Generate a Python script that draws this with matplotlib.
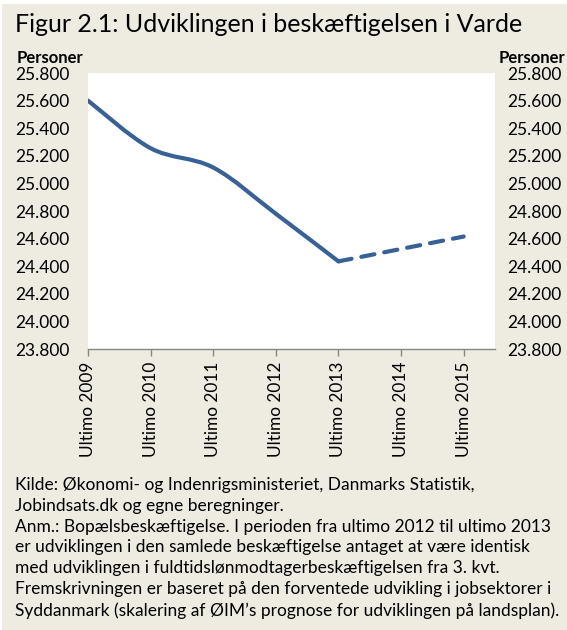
import numpy as np
import matplotlib
matplotlib.use("Agg")
import matplotlib.pyplot as plt
from matplotlib.path import Path
from matplotlib.patches import PathPatch, Rectangle

# Data (persons employed, Varde)
YEARS = ["Ultimo 2009", "Ultimo 2010", "Ultimo 2011", "Ultimo 2012",
         "Ultimo 2013", "Ultimo 2014", "Ultimo 2015"]
ACTUAL = [25600, 25255, 25115, 24780, 24435]          # 2009-2013
FORECAST = [24435, 24525, 24615]                      # 2013-2015
Y_TICKS = list(range(23800, 25801, 200))

TITLE = "Figur 2.1: Udviklingen i beskæftigelsen i Varde"
NOTE = ("Kilde: Økonomi- og Indenrigsministeriet, Danmarks Statistik,\n"
        "Jobindsats.dk og egne beregninger.\n"
        "Anm.: Bopælsbeskæftigelse. I perioden fra ultimo 2012 til ultimo 2013\n"
        "er udviklingen i den samlede beskæftigelse antaget at være identisk\n"
        "med udviklingen i fuldtidslønmodtagerbeskæftigelsen fra 3. kvt.\n"
        "Fremskrivningen er baseret på den forventede udvikling i jobsektorer i\n"
        "Syddanmark (skalering af ØIM’s prognose for udviklingen på landsplan).")

BG = "#EEECE1"
LINE = "#386196"
FONT = "Lato"


def smooth_path(x, y):
    # Excel-style smoothed line: Catmull-Rom segments as cubic Beziers
    x = np.asarray(x, float)
    y = np.asarray(y, float)
    px = np.concatenate([[x[0]], x, [x[-1]]])
    py = np.concatenate([[y[0]], y, [y[-1]]])
    verts = [(x[0], y[0])]
    codes = [Path.MOVETO]
    for i in range(1, len(px) - 2):
        c1 = (px[i] + (px[i + 1] - px[i - 1]) / 6, py[i] + (py[i + 1] - py[i - 1]) / 6)
        c2 = (px[i + 1] - (px[i + 2] - px[i]) / 6, py[i + 1] - (py[i + 2] - py[i]) / 6)
        verts += [c1, c2, (px[i + 1], py[i + 1])]
        codes += [Path.CURVE4] * 3
    return Path(verts, codes)


def fmt(v):
    return f"{v:,}".replace(",", ".")


fig = plt.figure(figsize=(5.67, 6.3), dpi=100, facecolor="white")
fig.patches.append(Rectangle((2 / 567, 0), 1, 1 - 4 / 630, transform=fig.transFigure,
                             facecolor=BG, edgecolor="none", zorder=-10))

W, H = 567, 630
left, right, top, bottom = 88, 495, 73, 349
ax = fig.add_axes([left / W, 1 - bottom / H, (right - left) / W, (bottom - top) / H])
ax.set_facecolor("white")

x_act = np.arange(len(ACTUAL))
x_fc = np.arange(len(ACTUAL) - 1, len(ACTUAL) - 1 + len(FORECAST))

ax.add_patch(PathPatch(smooth_path(x_act, ACTUAL), facecolor="none", edgecolor=LINE,
                       linewidth=3.0, capstyle="round", joinstyle="round"))
ax.plot(x_fc, FORECAST, color=LINE, linewidth=3.0, linestyle=(0, (3.2, 2.4)),
        dash_capstyle="round", solid_joinstyle="round")

ax.set_xlim(0, len(YEARS) - 0.5)
ax.set_ylim(Y_TICKS[0], Y_TICKS[-1])
ax.set_xticks(range(len(YEARS)))
ax.set_xticklabels(YEARS, rotation=90, fontsize=12.4, family=FONT, color="black")
ax.tick_params(axis="x", direction="out", length=5, width=1, color="#868686", pad=4)

ax.set_yticks(Y_TICKS)
ax.set_yticklabels([fmt(v) for v in Y_TICKS], fontsize=12.5, family=FONT)
ax.tick_params(axis="y", length=0, pad=13)

for side in ["left", "right", "top"]:
    ax.spines[side].set_visible(False)
ax.spines["bottom"].set_color("#868686")
ax.spines["bottom"].set_linewidth(1)

ax2 = ax.twinx()
ax2.set_ylim(Y_TICKS[0], Y_TICKS[-1])
ax2.set_yticks(Y_TICKS)
ax2.set_yticklabels([fmt(v) for v in Y_TICKS], fontsize=12.5, family=FONT)
ax2.tick_params(axis="y", length=0, pad=9)
for side in ax2.spines:
    ax2.spines[side].set_visible(False)

fig.text(15 / W, 1 - 24 / H, TITLE, fontsize=18, family=FONT, va="center", ha="left")
fig.text(17 / W, 1 - 58 / H, "Personer", fontsize=12, family=FONT, weight="bold",
         va="center", ha="left")
fig.text(565 / W, 1 - 58 / H, "Personer", fontsize=12, family=FONT, weight="bold",
         va="center", ha="right")
fig.text(15 / W, 1 - 477 / H, NOTE, fontsize=12.5, family=FONT, va="top", ha="left",
         linespacing=1.37)

fig.savefig("out.png", dpi=100, facecolor=fig.get_facecolor())
